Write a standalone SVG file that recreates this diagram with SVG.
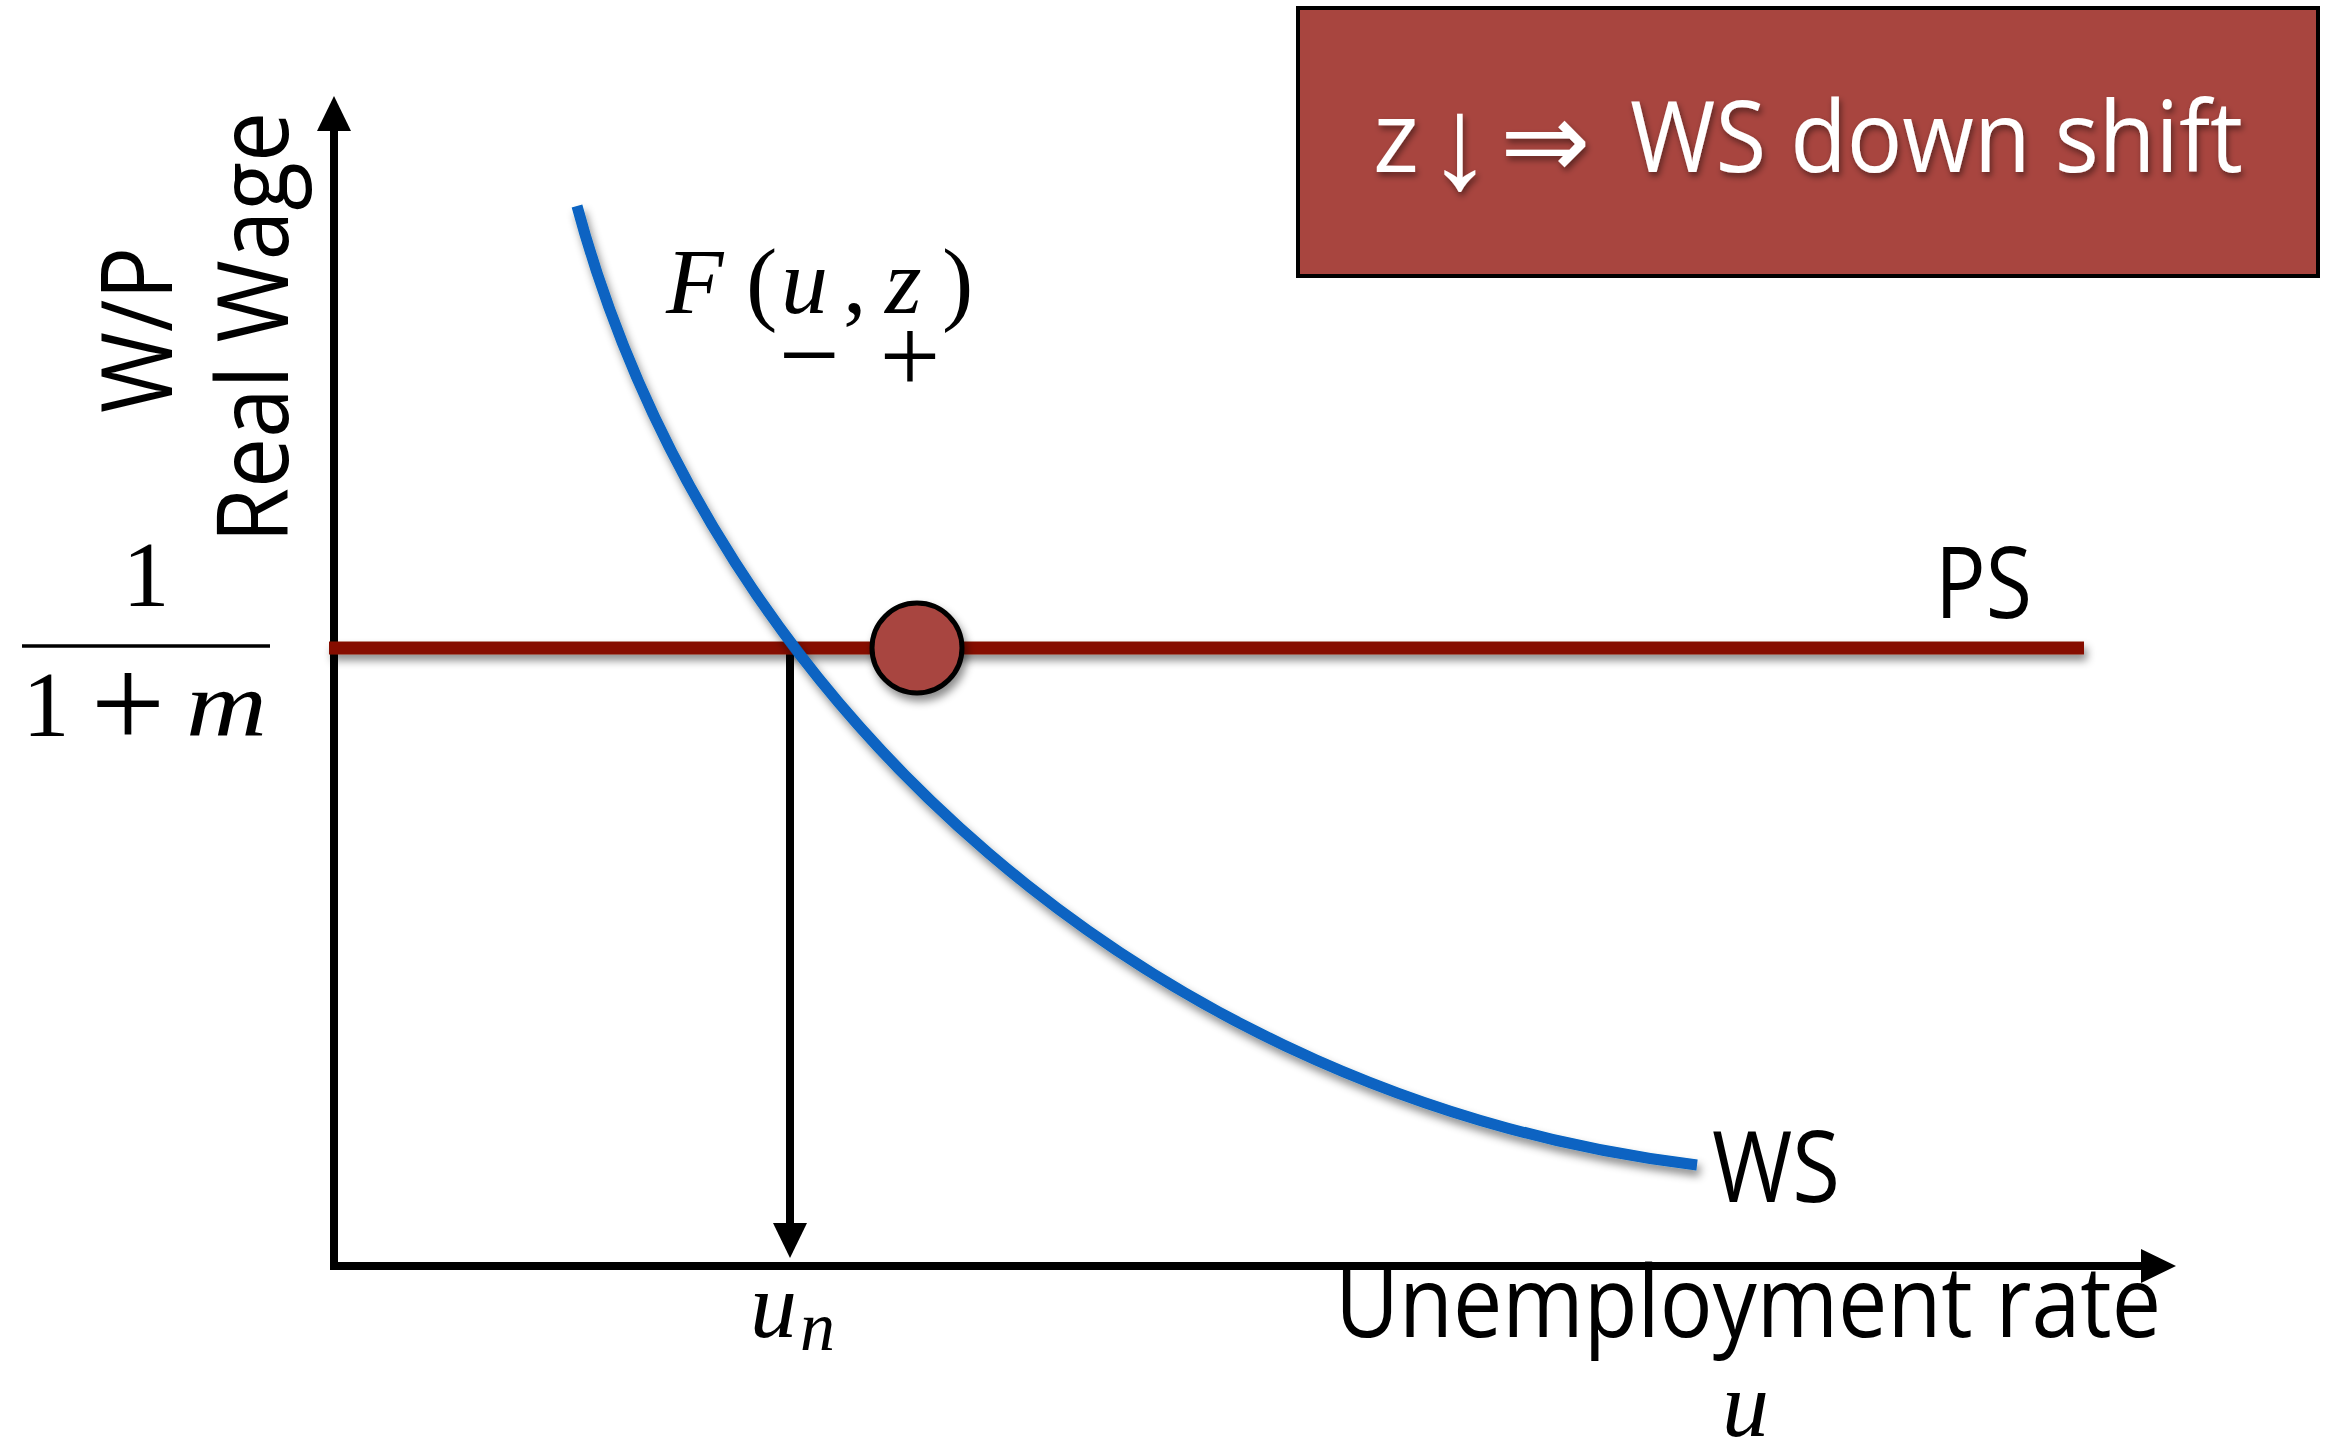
<svg xmlns="http://www.w3.org/2000/svg" width="2334" height="1446" viewBox="0 0 2334 1446">
<defs>
<style>
.sans{font-family:"Open Sans","Noto Sans","DejaVu Sans",sans-serif;font-size:98px;fill:#000}
.math{font-family:"Liberation Serif","Times New Roman",serif;font-size:94px;fill:#000}
.it{font-style:italic}
.axis{stroke:#000;stroke-width:8;fill:none}
</style>
<filter id="sh" filterUnits="userSpaceOnUse" x="0" y="0" width="2334" height="1446">
<feDropShadow dx="3" dy="6" stdDeviation="4" flood-color="#000" flood-opacity="0.45"/>
</filter>
<filter id="tsh" filterUnits="userSpaceOnUse" x="0" y="0" width="2334" height="1446">
<feDropShadow dx="2" dy="4" stdDeviation="3" flood-color="#000" flood-opacity="0.45"/>
</filter>
</defs>
<rect width="2334" height="1446" fill="#fff"/>

<g id="connectors">
<line class="axis" x1="334" y1="1270" x2="334" y2="128"/>
<polygon points="334,96 317,131 351,131" fill="#000"/>
<line class="axis" x1="330" y1="1266" x2="2144" y2="1266"/>
<polygon points="2176,1266 2141,1249 2141,1283" fill="#000"/>
<line class="axis" x1="790" y1="648" x2="790" y2="1226"/>
<polygon points="790,1258 773,1223 807,1223" fill="#000"/>
</g>

<g id="ps-line" filter="url(#sh)">
<rect x="329" y="641.5" width="1755" height="13" fill="#861102"/>
</g>

<g id="ws-curve" filter="url(#sh)">
<path d="M577,206 C715,717 1163,1101 1697,1165" fill="none" stroke="#0764C2" stroke-width="11"/>
</g>

<g id="equilibrium" filter="url(#sh)">
<circle cx="917" cy="648" r="45" fill="#A8453F" stroke="#000" stroke-width="5"/>
</g>

<g id="note-box">
<rect x="1298" y="8" width="1020" height="268" fill="#A8453F" stroke="#000" stroke-width="4"/>
<g filter="url(#tsh)">
<text class="sans" x="1373" y="172" style="fill:#fff">z</text>
<text x="1460" y="188" text-anchor="middle" style="fill:#fff;font-family:'Liberation Sans','DejaVu Sans',sans-serif;font-size:132px">↓</text>
<text x="1500" y="178" style="fill:#fff;font-family:'DejaVu Sans',sans-serif;font-size:108px">⇒</text>
<text class="sans" x="1630" y="172" textLength="613" lengthAdjust="spacingAndGlyphs" style="fill:#fff">WS down shift</text>
</g>
</g>

<g id="y-label">
<text class="sans" transform="translate(172,413) rotate(-90)" textLength="166" lengthAdjust="spacingAndGlyphs">W/P</text>
<text class="sans" transform="translate(288,543) rotate(-90)" textLength="431" lengthAdjust="spacingAndGlyphs">Real Wage</text>
</g>

<g id="markup-fraction">
<text class="math" x="146" y="606" text-anchor="middle">1</text>
<line x1="22" y1="646" x2="270" y2="646" stroke="#000" stroke-width="3.5"/>
<text class="math" x="46" y="736" text-anchor="middle">1</text>
<text class="math" x="128" y="747" text-anchor="middle" style="font-size:132px">+</text>
<text class="math it" x="186" y="736" textLength="81" lengthAdjust="spacingAndGlyphs">m</text>
</g>

<g id="ws-formula">
<text class="math" x="666" y="313"><tspan class="it">F</tspan><tspan x="746">(</tspan><tspan x="781" class="it">u</tspan><tspan x="843">,</tspan><tspan x="885" class="it">z</tspan><tspan x="942">)</tspan></text>
<text class="math" x="809" y="391" text-anchor="middle" style="font-size:108px">−</text>
<text class="math" x="910" y="392" text-anchor="middle" style="font-size:108px">+</text>
</g>

<g id="labels">
<text class="sans" x="1935" y="618" textLength="97" lengthAdjust="spacingAndGlyphs">PS</text>
<text class="sans" x="1712" y="1202" textLength="128" lengthAdjust="spacingAndGlyphs">WS</text>
<text class="sans" x="1335" y="1337" textLength="826" lengthAdjust="spacingAndGlyphs">Unemployment rate</text>
<text class="math it" x="1722" y="1436">u</text>
<text class="math it" x="750" y="1337">u<tspan x="800" y="1350" style="font-size:70px">n</tspan></text>
</g>
</svg>
